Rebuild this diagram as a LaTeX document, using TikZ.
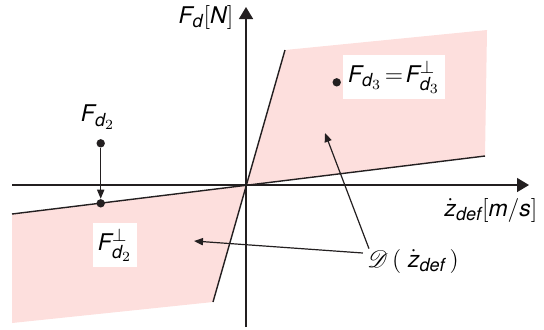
\documentclass[tikz,border=0pt]{standalone}
\usepackage{fontspec}
\setmainfont{TeX Gyre Heros}
\usepackage{amsmath}
\usepackage{mathrsfs}
\usepackage{tikz}
\usetikzlibrary{arrows.meta}
\DeclareMathSizes{11.5}{11.5}{9}{7.5}
\definecolor{bolge}{HTML}{FDDFDD}
\definecolor{cizgi}{HTML}{231F20}

\begin{document}
\begin{tikzpicture}[x=0.5pt,y=-0.5pt,
  eksen/.style={cizgi,line width=0.8pt,-{Triangle[length=6pt,width=7pt]}},
  sinir/.style={cizgi,line width=0.7pt},
  ok/.style={cizgi,line width=0.6pt,-{Triangle[length=4.5pt,width=3.6pt]}},
  nokta/.style={circle,fill=cizgi,inner sep=0pt,minimum size=4.2pt},
  etiket/.style={font=\fontsize{11.5}{14}\selectfont,inner sep=1pt},
  kutu/.style={etiket,fill=white,inner sep=2.5pt,minimum height=22pt}]
\useasboundingbox (0,0) rectangle (544,329);
\fill[bolge] (12,214)--(246,185)--(213,302)--(12,323)--cycle;
\fill[bolge] (246,185)--(285,50)--(487,30)--(485,156)--cycle;
\coordinate (O) at (246,185);
\coordinate (xa) at (12,185);
\coordinate (xb) at (529,185);
\coordinate (ya) at (246,327);
\coordinate (yb) at (246,7);
\coordinate (s1) at (12,214);
\coordinate (s2) at (485,156);
\coordinate (d1) at (213,302);
\coordinate (d2) at (285,50);
\draw[eksen] (xa)--(xb);
\draw[eksen] (ya)--(yb);
\draw[sinir] (s1)--(s2);
\draw[sinir] (d1)--(d2);
\node[nokta] (p2) at (100.7,143.3) {};
\node[nokta] (q2) at (100.7,203.3) {};
\node[nokta] (p3) at (336.7,82.3) {};
\draw[ok] (p2)--(q2);
\node[etiket] (lF2) at (98,117) {$\mathit{F}_{\mathit{d}_2}$};
\node[kutu] (lF2p) at (115,245) {$\mathit{F}_{\mathit{d}_2}^{\perp}$};
\node[kutu] (lF3) at (394,77) {$\mathit{F}_{\mathit{d}_3}\!=\!\mathit{F}_{\mathit{d}_3}^{\perp}$};
\node[etiket] (lD) at (413,261) {$\mathscr{D}\,(\;\dot{\mathit{z}}_{\mathit{def}}\,)$};
\node[etiket] (lx) at (491,210) {$\dot{\mathit{z}}_{\mathit{def}}[\mathit{m/s}]$};
\node[etiket] (ly) at (206,17) {$\mathit{F}_{\mathit{d}}[\mathit{N}]$};
\coordinate (hA) at (194,241);
\coordinate (hB) at (325,133);
\draw[ok] ([xshift=-1pt,yshift=4pt]lD.west)--(hA);
\draw[ok] ([xshift=2pt,yshift=-1pt]lD.north west)--(hB);
\end{tikzpicture}
\end{document}
